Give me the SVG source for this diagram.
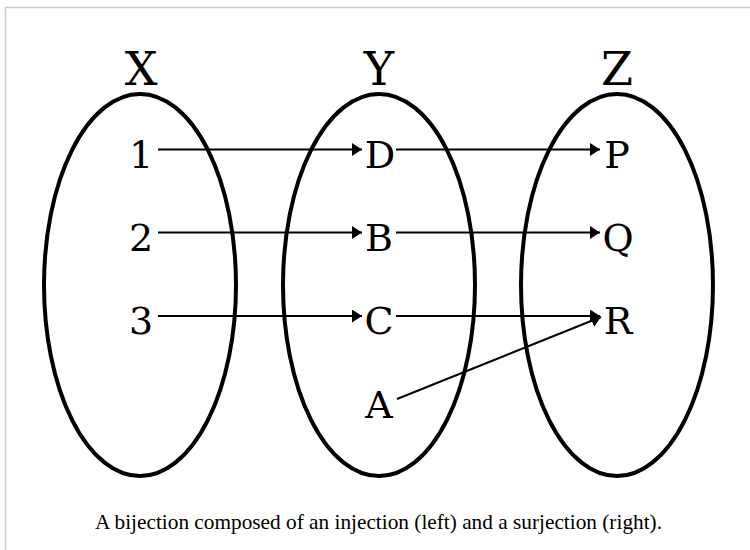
<svg xmlns="http://www.w3.org/2000/svg" width="750" height="550" viewBox="0 0 750 550">
  <style>
    .set { fill: none; stroke: #000; stroke-width: 4; }
    .title { font-family: "DejaVu Serif", "Liberation Serif", serif; font-size: 46px; text-anchor: middle; fill: #000; }
    .el { font-family: "DejaVu Serif", "Liberation Serif", serif; font-size: 38px; text-anchor: middle; fill: #000; }
    .cap { font-family: "Liberation Serif", "Times New Roman", serif; font-size: 21px; text-anchor: middle; fill: #000; }
    .conn { fill: none; stroke: #000; stroke-width: 2; marker-end: url(#arrow); }
  </style>
  <defs>
    <marker id="arrow" markerUnits="userSpaceOnUse" markerWidth="10" markerHeight="13" refX="10" refY="6.5" orient="auto">
      <path d="M0,0 L10,6.5 L0,13 z" fill="#000"/>
    </marker>
  </defs>
  <rect x="0" y="0" width="750" height="550" fill="#fff"/>
  <rect x="5.5" y="7.5" width="800" height="600" fill="none" stroke="#cfcfcf" stroke-width="1.5"/>

  <g id="set-X">
    <ellipse class="set" cx="140" cy="285" rx="96" ry="191"/>
    <text class="title" x="141" y="85">X</text>
  </g>
  <g id="set-Y">
    <ellipse class="set" cx="379" cy="285" rx="96" ry="191"/>
    <text class="title" x="379" y="85">Y</text>
  </g>
  <g id="set-Z">
    <ellipse class="set" cx="617" cy="285" rx="96" ry="191"/>
    <text class="title" x="617" y="85">Z</text>
  </g>

  <g id="el-1"><text class="el" x="141" y="168">1</text></g>
  <g id="el-2"><text class="el" x="141" y="251">2</text></g>
  <g id="el-3"><text class="el" x="141" y="334">3</text></g>
  <g id="el-D"><text class="el" x="380" y="168">D</text></g>
  <g id="el-B"><text class="el" x="379" y="251">B</text></g>
  <g id="el-C"><text class="el" x="379" y="334">C</text></g>
  <g id="el-A"><text class="el" x="379" y="418">A</text></g>
  <g id="el-P"><text class="el" x="617" y="168">P</text></g>
  <g id="el-Q"><text class="el" x="618" y="251">Q</text></g>
  <g id="el-R"><text class="el" x="618" y="334">R</text></g>

  <g id="connectors">
    <line class="conn" x1="158" y1="149.5" x2="362" y2="149.5"/>
    <line class="conn" x1="158" y1="232.5" x2="362" y2="232.5"/>
    <line class="conn" x1="158" y1="316" x2="362" y2="316"/>
    <line class="conn" x1="396" y1="149.5" x2="600" y2="149.5"/>
    <line class="conn" x1="396" y1="232.5" x2="600" y2="232.5"/>
    <line class="conn" x1="396" y1="316" x2="600" y2="316"/>
    <line class="conn" x1="397" y1="399" x2="601" y2="317"/>
  </g>

  <text class="cap" x="378.5" y="529" textLength="567" lengthAdjust="spacingAndGlyphs">A bijection composed of an injection (left) and a surjection (right).</text>
</svg>
